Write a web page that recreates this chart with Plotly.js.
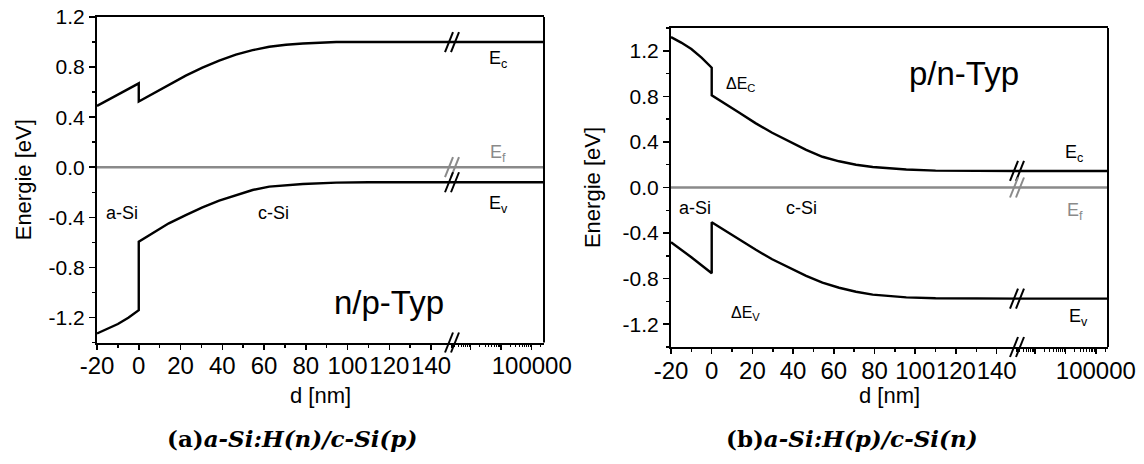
<!DOCTYPE html>
<html><head><meta charset="utf-8">
<script src="https://cdn.plot.ly/plotly-3.0.1.min.js"></script>
<style>html,body{margin:0;padding:0;background:#fff}#chart{width:1144px;height:464px}</style>
</head><body><div id="chart"></div>
<script>
// ---------- data (d in nm, energies in eV) ----------
// (a) a-Si:H(n)/c-Si(p)
const dEcA = [-20, -15, -10, -5, 0, 0, 7, 14.4, 22.5, 30.5, 38.5, 46.5, 54.5, 62.5, 70.5, 78.6, 86.5, 94.6, 110, 150];
const EcA  = [0.49, 0.535, 0.578, 0.622, 0.67, 0.525, 0.59, 0.658, 0.732, 0.795, 0.852, 0.90, 0.935, 0.962, 0.978, 0.988, 0.996, 1.0, 1.0, 1.0];
const dEvA = [-20, -15, -10, -5, 0, 0, 6.4, 14.4, 22.5, 30.5, 38.5, 46.5, 54.5, 62.5, 70.5, 78.6, 94.6, 110, 150];
const EvA  = [-1.328, -1.292, -1.252, -1.203, -1.142, -0.595, -0.528, -0.448, -0.382, -0.32, -0.267, -0.222, -0.182, -0.155, -0.142, -0.134, -0.123, -0.12, -0.12];
// (b) a-Si:H(p)/c-Si(n)
const dEcB = [-20, -15, -10, -5, 0, 0, 13.2, 21.5, 29.7, 38.2, 46.4, 54.4, 62.6, 70.9, 79.1, 95.6, 110, 150];
const EcB  = [1.32, 1.272, 1.215, 1.14, 1.052, 0.809, 0.66, 0.565, 0.48, 0.40, 0.33, 0.27, 0.23, 0.20, 0.18, 0.158, 0.148, 0.145];
const dEvB = [-20, -15, -10, -5, 0, 0, 13.2, 21.5, 29.7, 38.2, 46.4, 54.4, 62.6, 70.9, 79.1, 95.6, 110, 150];
const EvB  = [-0.481, -0.545, -0.612, -0.683, -0.753, -0.305, -0.455, -0.545, -0.63, -0.705, -0.775, -0.835, -0.88, -0.915, -0.94, -0.964, -0.972, -0.975];
// Fermi level
const dEf = [-20, 150];
const Ef  = [0, 0];
// far (log) part of the d axis: bands are flat there
const dFar   = [100, 1000000];
const EcFarA = [1.0, 1.0];
const EvFarA = [-0.12, -0.12];
const EcFarB = [0.145, 0.145];
const EvFarB = [-0.975, -0.975];
const EfFar  = [0, 0];
// ticks
const xTickVals = [-20, 0, 20, 40, 60, 80, 100, 120, 140];
const xTickText = ['-20', '0', '20', '40', '60', '80', '100', '120', '140'];
const logTickVals = [1000, 10000, 100000];
const logTickText = [' ', ' ', '100000'];
const yTickVals = [-1.2, -0.8, -0.4, 0, 0.4, 0.8, 1.2];
const yTickText = ['-1.2', '-0.8', '-0.4', '0.0', '0.4', '0.8', '1.2'];

// ---------- style ----------
const W = 1144, H = 464;
const BLACK = '#000000', GREY = '#8a8a8a';
const FONT = 'Liberation Sans, Arial, sans-serif';
const LW = 2.4;
const px = v => v / W, py = v => 1 - v / H;

// panel geometry (pixels)
const A = {l: 97, brk: 452, r: 544, t: 17, b: 342.5, stand: 11};
const B = {l: 671, brk: 1017, r: 1108, t: 28, b: 347, stand: 16};

function line(x, y, xa, ya, color) {
  return {x: x, y: y, xaxis: xa, yaxis: ya, type: 'scatter', mode: 'lines',
          line: {color: color, width: LW}, hoverinfo: 'skip', showlegend: false};
}
const traces = [
  line(dEf, Ef, 'x', 'y', GREY), line(dEcA, EcA, 'x', 'y', BLACK), line(dEvA, EvA, 'x', 'y', BLACK),
  line(dFar, EfFar, 'x2', 'y', GREY), line(dFar, EcFarA, 'x2', 'y', BLACK), line(dFar, EvFarA, 'x2', 'y', BLACK),
  line(dEf, Ef, 'x3', 'y2', GREY), line(dEcB, EcB, 'x3', 'y2', BLACK), line(dEvB, EvB, 'x3', 'y2', BLACK),
  line(dFar, EfFar, 'x4', 'y2', GREY), line(dFar, EcFarB, 'x4', 'y2', BLACK), line(dFar, EvFarB, 'x4', 'y2', BLACK)
];

const XFONT = {family: FONT, size: 24, color: BLACK};
function linX(P, ya) {
  return {domain: [px(P.l), px(P.brk)], range: [-20, 150], anchor: ya,
    tickmode: 'array', tickvals: xTickVals, ticktext: xTickText, tickangle: 0,
    ticks: 'outside', ticklen: 5, tickwidth: 1.5, tickcolor: BLACK, ticklabelstandoff: -4,
    minor: {dtick: 10, tick0: 0, ticks: 'outside', ticklen: 3, tickwidth: 1.5, tickcolor: BLACK},
    tickfont: XFONT,
    showline: true, linewidth: 2, linecolor: BLACK, mirror: true,
    showgrid: false, zeroline: false, fixedrange: true};
}
function logX(P, ya) {
  return {domain: [px(P.brk), px(P.r)], type: 'log', range: [2.4, 5.4], anchor: ya,
    tickmode: 'array', tickvals: logTickVals, ticktext: logTickText, tickangle: 0,
    ticks: 'outside', ticklen: 5, tickwidth: 1.5, tickcolor: BLACK, ticklabelstandoff: -4,
    minor: {dtick: 'D1', ticks: 'outside', ticklen: 2.5, tickwidth: 1, tickcolor: BLACK},
    tickfont: XFONT,
    showline: true, linewidth: 2, linecolor: BLACK, mirror: true,
    showgrid: false, zeroline: false, fixedrange: true};
}
function yAx(P, xa, rng) {
  return {domain: [py(P.b), py(P.t)], range: rng, anchor: xa,
    tickmode: 'array', tickvals: yTickVals, ticktext: yTickText,
    ticks: 'outside', ticklen: 6, tickwidth: 1.5, tickcolor: BLACK,
    minor: {dtick: 0.2, tick0: 0, ticks: 'outside', ticklen: 3, tickwidth: 1.5, tickcolor: BLACK},
    tickfont: {family: FONT, size: 21, color: BLACK},
    title: {text: 'Energie [eV]', font: {family: FONT, size: 22, color: BLACK}, standoff: P.stand},
    showline: true, linewidth: 2, linecolor: BLACK, mirror: false,
    showgrid: false, zeroline: false, fixedrange: true};
}

// break marks "//"
function slashes(xFrac, yref, yval, color) {
  return [-3, 3].map(dx => ({type: 'line', xref: 'paper', xsizemode: 'pixel', xanchor: xFrac,
    x0: dx - 4, x1: dx + 4, yref: yref, ysizemode: 'pixel', yanchor: yval, y0: -10, y1: 10,
    line: {color: color, width: 2}}));
}
const shapes = [
  {type: 'line', xref: 'x2 domain', x0: 1, x1: 1, yref: 'y domain', y0: 0, y1: 1, line: {color: BLACK, width: 2}},
  {type: 'line', xref: 'x4 domain', x0: 1, x1: 1, yref: 'y2 domain', y0: 0, y1: 1, line: {color: BLACK, width: 2}},
  ...slashes(px(A.brk), 'y', EcFarA[0], BLACK),
  ...slashes(px(A.brk), 'y', EfFar[0], GREY),
  ...slashes(px(A.brk), 'y', EvFarA[0], BLACK),
  ...slashes(px(A.brk), 'y domain', 0, BLACK),
  ...slashes(px(B.brk), 'y2', EcFarB[0], BLACK),
  ...slashes(px(B.brk), 'y2', EfFar[0], GREY),
  ...slashes(px(B.brk), 'y2', EvFarB[0], BLACK),
  ...slashes(px(B.brk), 'y2 domain', 0, BLACK)
];

function ann(text, xref, x, yref, y, size, color, family) {
  return {text: text, xref: xref, x: x, yref: yref, y: y, showarrow: false,
    font: {family: family || FONT, size: size, color: color || BLACK}, xanchor: 'center', yanchor: 'middle'};
}
const CAP = 'DejaVu Serif, serif';
const annotations = [
  // panel (a)
  ann('E<sub>c</sub>', 'x2 domain', 0.5, 'y', 0.86, 18),
  ann('E<sub>f</sub>', 'x2 domain', 0.5, 'y', 0.11, 18, GREY),
  ann('E<sub>v</sub>', 'x2 domain', 0.5, 'y', -0.30, 18),
  ann('a-Si', 'x', -8, 'y', -0.366, 18),
  ann('c-Si', 'x', 64.5, 'y', -0.366, 18),
  ann('n/p-Typ', 'x', 120, 'y', -1.08, 33),
  ann('d [nm]', 'paper', px((A.l + A.r) / 2), 'paper', py(395), 22),
  ann('<b>(a)</b><b><i>a-Si:H(n)/c-Si(p)</i></b>', 'paper', px(292), 'paper', py(438), 23, BLACK, CAP),
  // panel (b)
  ann('E<sub>c</sub>', 'x4 domain', 0.63, 'y2', 0.30, 18),
  ann('E<sub>f</sub>', 'x4 domain', 0.64, 'y2', -0.21, 18, GREY),
  ann('E<sub>v</sub>', 'x4 domain', 0.68, 'y2', -1.14, 18),
  ann('\u0394E<sub>C</sub>', 'x3', 14, 'y2', 0.90, 16),
  ann('\u0394E<sub>V</sub>', 'x3', 16.5, 'y2', -1.11, 16),
  ann('a-Si', 'x3', -8, 'y2', -0.176, 18),
  ann('c-Si', 'x3', 44, 'y2', -0.176, 18),
  ann('p/n-Typ', 'x3', 124, 'y2', 1.0, 33),
  ann('d [nm]', 'paper', px((B.l + B.r) / 2), 'paper', py(395), 22),
  ann('<b>(b)</b><b><i>a-Si:H(p)/c-Si(n)</i></b>', 'paper', px(852), 'paper', py(438), 23, BLACK, CAP)
];

const layout = {
  width: W, height: H, margin: {l: 0, r: 0, t: 0, b: 0},
  paper_bgcolor: '#ffffff', plot_bgcolor: '#ffffff', showlegend: false,
  xaxis: linX(A, 'y'), xaxis2: logX(A, 'y'),
  xaxis3: linX(B, 'y2'), xaxis4: logX(B, 'y2'),
  yaxis: yAx(A, 'x', [-1.4, 1.2]), yaxis2: yAx(B, 'x3', [-1.4, 1.4]),
  shapes: shapes, annotations: annotations
};
Plotly.newPlot('chart', traces, layout, {staticPlot: true, displayModeBar: false});
</script></body></html>
